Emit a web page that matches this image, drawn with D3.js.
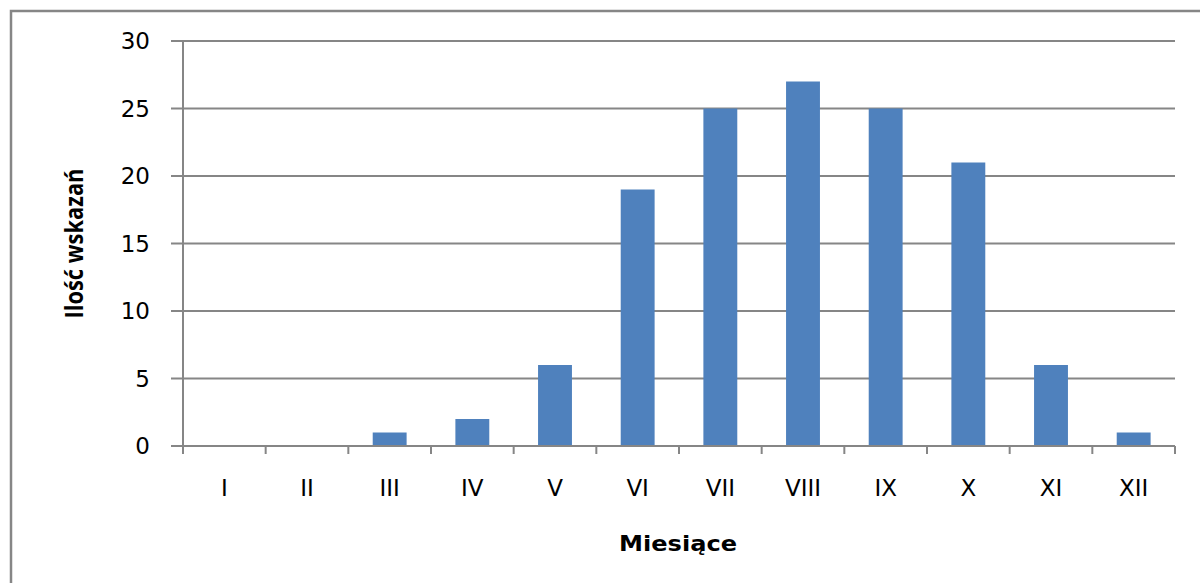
<!DOCTYPE html>
<html>
<head>
<meta charset="utf-8">
<script src="https://cdn.jsdelivr.net/npm/d3@7"></script>
<style>
  html, body { margin: 0; padding: 0; background: #fff; }
  svg { display: block; }
  .tick-label { font-family: "DejaVu Sans", sans-serif; font-size: 23px; fill: #000; }
  .x-title { font-family: "DejaVu Sans", sans-serif; font-weight: 700; font-size: 22px; fill: #000; }
  .y-title { font-family: "Liberation Sans Narrow", "Open Sans", sans-serif; font-weight: 700; font-size: 25px; fill: #000; }
</style>
</head>
<body>
<script>
// Monthly counts of indications
const months = ["I", "II", "III", "IV", "V", "VI", "VII", "VIII", "IX", "X", "XI", "XII"];
const counts = [0, 0, 1, 2, 6, 19, 25, 27, 25, 21, 6, 1];
const yTicks = [0, 5, 10, 15, 20, 25, 30];
const xTitle = "Miesiące";
const yTitle = "Ilość wskazań";

const W = 1200, H = 583;
const plot = { left: 183, right: 1175, top: 41, bottom: 446 };
const gridColor = "#868686";
const barColor = "#4F81BD";

const svg = d3.select("body").append("svg")
  .attr("width", W).attr("height", H);

// chart frame
svg.append("rect")
  .attr("x", 11).attr("y", 11)
  .attr("width", 1210).attr("height", 600)
  .attr("fill", "none")
  .attr("stroke", gridColor)
  .attr("stroke-width", 2.5);

const x = d3.scaleBand()
  .domain(months)
  .range([plot.left, plot.right])
  .paddingInner(0.59)
  .paddingOuter(0.295);

const y = d3.scaleLinear()
  .domain([0, 30])
  .range([plot.bottom, plot.top]);

// horizontal gridlines with short left ticks
svg.append("g").selectAll("line")
  .data(yTicks)
  .join("line")
  .attr("x1", plot.left - 12).attr("x2", plot.right)
  .attr("y1", d => y(d)).attr("y2", d => y(d))
  .attr("stroke", gridColor).attr("stroke-width", 2);

// y-axis line
svg.append("line")
  .attr("x1", plot.left).attr("x2", plot.left)
  .attr("y1", y(30)).attr("y2", y(0) + 8)
  .attr("stroke", gridColor).attr("stroke-width", 2);

// y tick labels
svg.append("g").selectAll("text")
  .data(yTicks)
  .join("text")
  .attr("class", "tick-label")
  .attr("x", 150)
  .attr("y", d => y(d))
  .attr("dy", "0.36em")
  .attr("text-anchor", "end")
  .text(d => d);

// bars
svg.append("g").selectAll("rect")
  .data(counts)
  .join("rect")
  .attr("x", (d, i) => x(months[i]))
  .attr("y", d => y(d))
  .attr("width", x.bandwidth())
  .attr("height", d => y(0) - y(d))
  .attr("fill", barColor);

// x-axis line and category boundary ticks
const gap = x.step() - x.bandwidth();
const bounds = months.map(m => x(m) - gap / 2).concat([x(months[months.length - 1]) + x.bandwidth() + gap / 2]);
svg.append("line")
  .attr("x1", plot.left).attr("x2", plot.right)
  .attr("y1", y(0)).attr("y2", y(0))
  .attr("stroke", gridColor).attr("stroke-width", 2);
svg.append("g").selectAll("line")
  .data(bounds)
  .join("line")
  .attr("x1", d => d).attr("x2", d => d)
  .attr("y1", y(0)).attr("y2", y(0) + 8)
  .attr("stroke", gridColor).attr("stroke-width", 2);

// x tick labels
svg.append("g").selectAll("text")
  .data(months)
  .join("text")
  .attr("class", "tick-label")
  .attr("x", d => x(d) + x.bandwidth() / 2)
  .attr("y", 488)
  .attr("dy", "0.36em")
  .attr("text-anchor", "middle")
  .text(d => d);

// axis titles
svg.append("text")
  .attr("class", "x-title")
  .attr("x", 678).attr("y", 543)
  .attr("dy", "0.36em")
  .attr("text-anchor", "middle")
  .attr("textLength", 118)
  .attr("lengthAdjust", "spacingAndGlyphs")
  .text(xTitle);

svg.append("text")
  .attr("class", "y-title")
  .attr("transform", `translate(74, ${(plot.top + plot.bottom) / 2}) rotate(-90)`)
  .attr("dy", "0.36em")
  .attr("text-anchor", "middle")
  .attr("textLength", 150)
  .attr("lengthAdjust", "spacingAndGlyphs")
  .text(yTitle);
</script>
</body>
</html>
